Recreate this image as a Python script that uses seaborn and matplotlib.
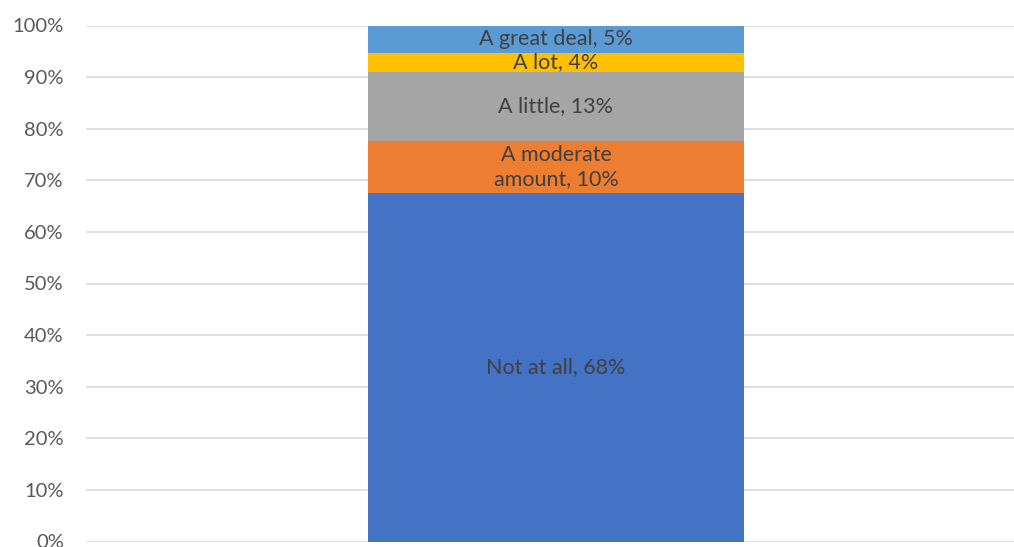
import matplotlib
matplotlib.use("Agg")
import matplotlib.pyplot as plt
import seaborn as sns
import numpy as np

# Data (percent of respondents)
categories = ["Not at all", "A moderate amount", "A little", "A lot", "A great deal"]
values = [67.5, 10.1, 13.4, 3.7, 5.3]
label_text = ["Not at all, 68%", "A moderate\namount, 10%", "A little, 13%", "A lot, 4%", "A great deal, 5%"]
colors = ["#4472C4", "#ED7D31", "#A5A5A5", "#FFC000", "#5B9BD5"]

sns.set_style("white")
plt.rcParams['font.family'] = ['Lato', 'DejaVu Sans']

fig = plt.figure(figsize=(10.14, 5.47), dpi=100)
ax = fig.add_axes([86 / 1014, 1 - 541.5 / 547, 940 / 1014, (541.5 - 25.5) / 547])

# cumulative tops, drawn from the top segment down so each layer covers the one above
tops = np.cumsum(values)
containers = []
for i in reversed(range(len(values))):
    sns.barplot(x=["all"], y=[tops[i]], color=colors[i], width=0.8,
                saturation=1, linewidth=0, ax=ax, zorder=2)
    containers.append(ax.containers[-1])

containers = containers[::-1]
for i, cont in enumerate(containers):
    bottom = tops[i] - values[i]
    for patch in cont.patches:
        patch.set_y(bottom)
        patch.set_height(values[i])
    ax.bar_label(cont, labels=[label_text[i]], label_type='center',
                 color="#404040", fontsize=15.5, linespacing=1.3)

ax.set_xlim(-1, 1)
ax.set_ylim(0, 100)
ax.set_yticks(np.arange(0, 101, 10))
ax.set_yticklabels([f"{v}%" for v in range(0, 101, 10)])
ax.yaxis.grid(True, color="#D9D9D9", linewidth=1.2, zorder=0)
ax.set_axisbelow(True)
ax.set_xticks([])
ax.set_xlabel("")
ax.set_ylabel("")
ax.tick_params(axis='y', length=0, pad=16, labelsize=14.5, labelcolor="#595959")
for s in ax.spines.values():
    s.set_visible(False)

fig.savefig("out.png", dpi=100)
